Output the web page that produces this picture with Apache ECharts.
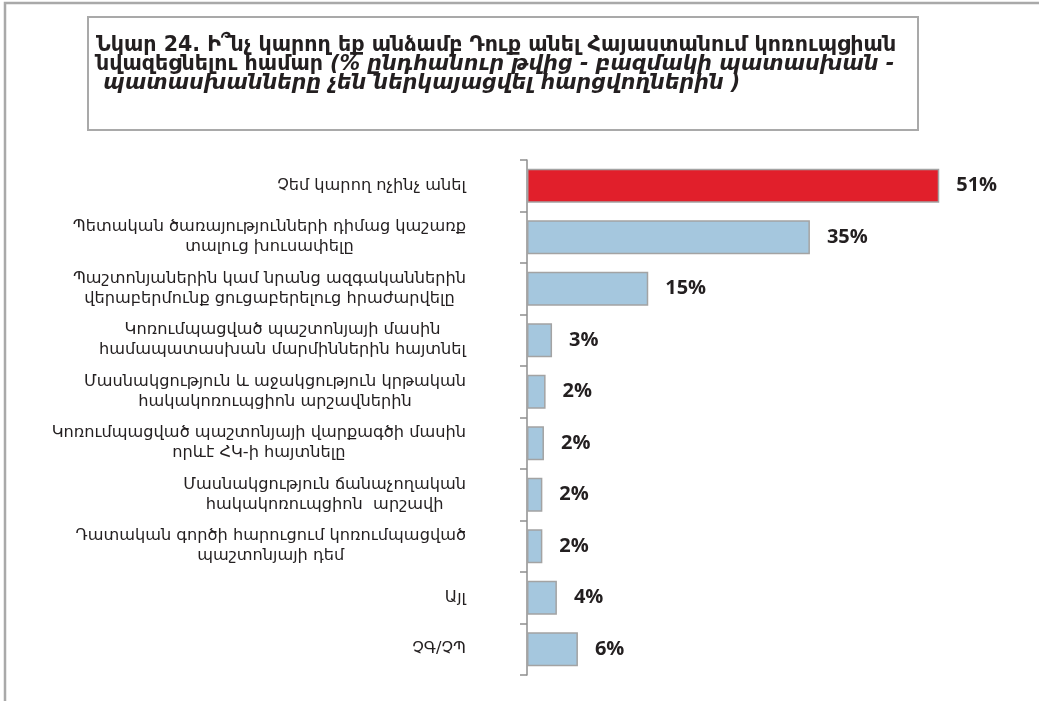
<!DOCTYPE html>
<html>
<head>
<meta charset="utf-8">
<script src="https://cdn.jsdelivr.net/npm/echarts@6/dist/echarts.min.js"></script>
<style>
    html, body { margin: 0; padding: 0; background: #fff; }
    #chart { width: 1039px; height: 701px; }
</style>
</head>
<body>
<div id="chart"></div>
<script>
// categories, top to bottom
var categories = [
    "Չեմ կարող ոչինչ անել",
    "Պետական ծառայությունների դիմաց կաշառք\nտալուց խուսափելը",
    "Պաշտոնյաներին կամ նրանց ազգականներին\nվերաբերմունք ցուցաբերելուց հրաժարվելը",
    "Կոռումպացված պաշտոնյայի մասին\nհամապատասխան մարմիններին հայտնել",
    "Մասնակցություն և աջակցություն կրթական\nհակակոռուպցիոն արշավներին",
    "Կոռումպացված պաշտոնյայի վարքագծի մասին\nորևէ ՀԿ-ի հայտնելը",
    "Մասնակցություն ճանաչողական\nհակակոռուպցիոն  արշավի",
    "Դատական գործի հարուցում կոռումպացված\nպաշտոնյայի դեմ",
    "Այլ",
    "ՉԳ/ՉՊ"
];
// percent of total (bar lengths)
var values = [51, 35, 15, 3.1, 2.3, 2.1, 1.9, 1.9, 3.7, 6.3];
// labels printed next to bars
var valueLabels = ["51%", "35%", "15%", "3%", "2%", "2%", "2%", "2%", "4%", "6%"];
var highlight = 0;

var titleLines = [
    "{b|Նկար 24. Ի՞նչ կարող եք անձամբ Դուք անել Հայաստանում կոռուպցիան}",
    "{b|նվազեցնելու համար }{i|(% ընդհանուր թվից - բազմակի պատասխան -}",
    "{i| պատասխանները չեն ներկայացվել հարցվողներին )}"
];

var chart = echarts.init(document.getElementById("chart"));

chart.setOption({
    backgroundColor: "#fff",
    animation: false,
    title: {
        text: titleLines.join("\n"),
        left: 88,
        top: 18,
        padding: [18, 10, 36, 8],
        borderColor: "#a9a9a9",
        borderWidth: 2,
        textStyle: {
            width: 812,
            lineHeight: 19,
            rich: {
                b: { fontFamily: "DejaVu Sans", fontSize: 20.6, fontWeight: "bold", color: "#231f20", lineHeight: 19 },
                i: { fontFamily: "DejaVu Sans", fontSize: 20.6, fontWeight: "bold", fontStyle: "italic", color: "#231f20", lineHeight: 19 }
            }
        }
    },
    graphic: [{
        type: "polyline",
        shape: { points: [[5, 701], [5, 3], [1039, 3]] },
        style: { stroke: "#a9a9a9", lineWidth: 2.5, fill: null }
    }],
    grid: {
        left: 527,
        top: 160,
        width: 485,
        height: 515
    },
    xAxis: {
        type: "value",
        min: 0,
        max: 60,
        show: false
    },
    yAxis: {
        type: "category",
        inverse: true,
        data: categories,
        axisLine: { show: true, lineStyle: { color: "#8e8e8e", width: 1.5 } },
        axisTick: { show: true, length: 7, lineStyle: { color: "#8e8e8e", width: 1.5 } },
        axisLabel: {
            margin: 61,
            formatter: function (v) {
                return v.split("\n").map(function (l) { return "{c|" + l + "}"; }).join("\n");
            },
            rich: {
                c: { align: "center", fontFamily: "DejaVu Sans", fontSize: 16.2, color: "#231f20", lineHeight: 20 }
            }
        }
    },
    series: [{
        type: "bar",
        barWidth: "66%",
        data: values.map(function (v, i) {
            return {
                value: v,
                itemStyle: { color: i === highlight ? "#e11f2b" : "#a5c7de" }
            };
        }),
        itemStyle: { borderColor: "#a3a3a3", borderWidth: 1.5 },
        label: {
            show: true,
            position: "right",
            distance: 17,
            formatter: function (p) { return valueLabels[p.dataIndex]; },
            fontFamily: "Open Sans",
            fontWeight: "bold",
            fontSize: 20,
            color: "#231f20"
        }
    }]
});
</script>
</body>
</html>
